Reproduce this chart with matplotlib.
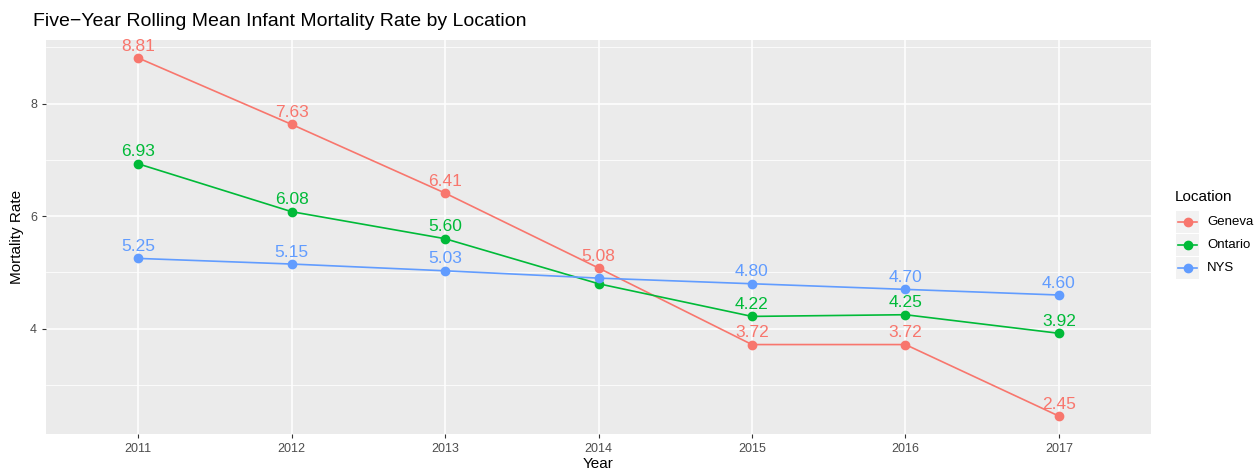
import matplotlib
matplotlib.use("Agg")
import matplotlib.pyplot as plt
from matplotlib.patches import Rectangle
from matplotlib.lines import Line2D

plt.rcParams['font.family'] = ['Liberation Sans', 'DejaVu Sans']

years = [2011, 2012, 2013, 2014, 2015, 2016, 2017]
geneva = [8.81, 7.63, 6.41, 5.08, 3.72, 3.72, 2.45]
ontario = [6.93, 6.08, 5.60, 4.80, 4.22, 4.25, 3.92]
nys = [5.25, 5.15, 5.03, 4.90, 4.80, 4.70, 4.60]
geneva_lab = [True, True, True, True, True, True, True]
ontario_lab = [True, True, True, False, True, True, True]
nys_lab = [True, True, True, False, True, True, True]
series = [("Geneva", geneva, geneva_lab, "#F8766D"),
          ("Ontario", ontario, ontario_lab, "#00BA38"),
          ("NYS", nys, nys_lab, "#619CFF")]

W, H = 1255, 471
fig = plt.figure(figsize=(W/100, H/100), dpi=100)
ax = fig.add_axes([46/W, 1-434/H, (1151-46)/W, (434-40)/H])
ax.set_facecolor("#EBEBEB")
for s in ax.spines.values():
    s.set_visible(False)

ax.set_xlim(2011-0.6, 2017+0.6)
allv = geneva + ontario + nys
lo, hi = min(allv), max(allv)
pad = (hi-lo)*0.05
ax.set_ylim(lo-pad, hi+pad)
ax.set_xticks(years)
ax.set_yticks([4, 6, 8])
ax.set_yticks([3, 5, 7, 9], minor=True)
ax.grid(True, which="major", color="white", linewidth=1.1)
ax.grid(True, which="minor", axis="y", color="white", linewidth=0.55)
ax.set_axisbelow(True)
ax.tick_params(axis="both", which="major", length=3, color="#333333", labelsize=9, labelcolor="#4D4D4D", width=0.8)
ax.tick_params(axis="both", which="minor", length=0)

for name, vals, labs, col in series:
    ax.plot(years, vals, color=col, linewidth=1.2, marker="o", markersize=6, zorder=3)
    for x, v, show in zip(years, vals, labs):
        if show:
            ax.annotate(f"{v:.2f}", (x, v), xytext=(0, 8.5), textcoords="offset points",
                        ha="center", va="center", color=col, fontsize=12.5, zorder=4)

ax.set_xlabel("Year", fontsize=11, labelpad=1.5)
ax.set_ylabel("Mortality Rate", fontsize=11, labelpad=4)
fig.text(33/W, 1-21/H, "Five\u2212Year Rolling Mean Infant Mortality Rate by Location",
         fontsize=14, ha="left", va="center")

# legend
fig.text(1175/W, 1-197/H, "Location", fontsize=11, ha="left", va="center")
for i, (name, vals, labs, col) in enumerate(series):
    yc = 222 + i*23
    fig.patches.append(Rectangle((1176/W, 1-(yc+11)/H), 23/W, 22/H, transform=fig.transFigure,
                                 facecolor="#F2F2F2", edgecolor="none"))
    fig.lines.append(Line2D([1178/W, 1197/W], [1-yc/H, 1-yc/H], transform=fig.transFigure,
                            color=col, linewidth=1.2, marker="", zorder=3))
    fig.lines.append(Line2D([1187.5/W], [1-yc/H], transform=fig.transFigure,
                            color=col, marker="o", markersize=6, linestyle="none", zorder=3))
    fig.text(1207/W, 1-yc/H, name, fontsize=9.5, ha="left", va="center")

fig.savefig("out.png", dpi=100)
